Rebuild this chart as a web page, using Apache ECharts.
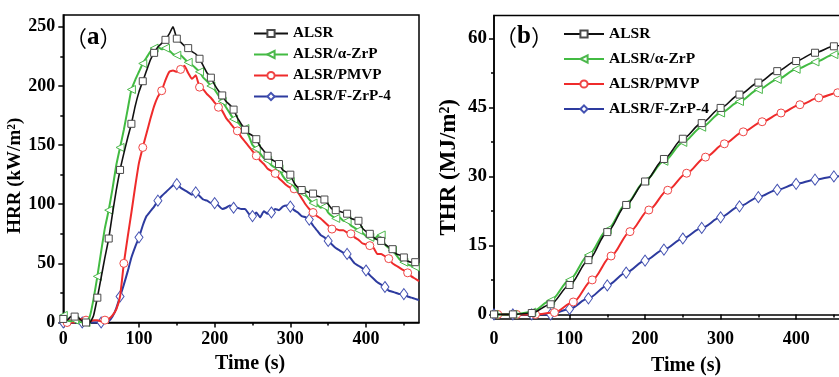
<!DOCTYPE html>
<html><head><meta charset="utf-8">
<script src="https://cdn.jsdelivr.net/npm/echarts@6/dist/echarts.min.js"></script>
<style>html,body{margin:0;padding:0;background:#fff}#c{width:839px;height:377px}</style>
</head><body><div id="c"></div>
<script>
const seriesNames = ['ALSR', 'ALSR/α-ZrP', 'ALSR/PMVP', 'ALSR/F-ZrP-4'];

// ---- Panel (a): HRR (kW/m2), time in s ----
const hrrTime = [0,5,10,15,20,25,30,35,40,45,50,55,60,65,70,75,80,85,90,95,
  100,105,110,115,120,125,130,135,140,145,150,155,160,165,170,175,180,185,190,195,
  200,205,210,215,220,225,230,235,240,245,250,255,260,265,270,275,280,285,290,295,
  300,305,310,315,320,325,330,335,340,345,350,355,360,365,370,375,380,385,390,395,
  400,405,410,415,420,425,430,435,440,445,450,455,460,465,470];
const hrrALSR = [3,2,5,5,4,1,0,0,6,21,
  38,55,71,92,112,129,143,156,168,183,
  195,204,213,222,228,233,236,239,244,250,
  240,237,234,232,229,227,223,217,211,207,
  201,196,192,187,184,180,173,168,163,160,
  158,155,149,145,141,138,136,134,129,127,
  125,118,114,112,111,110,109,107,106,104,
  100,96,95,94,93,92,88,87,86,80,
  77,75,72,70,69,66,64,62,58,57,
  55,52,51,51,50];
const hrrZrP = [6,2,1,2,1,0,0,5,20,39,
  60,80,95,113,133,148,163,180,197,205,
  212,219,224,229,232,233,231,232,230,227,
  226,226,223,220,218,215,212,207,204,200,
  197,192,187,182,177,172,170,166,164,158,
  150,147,143,139,137,133,131,130,124,120,
  119,115,111,110,108,104,101,100,97,98,
  93,90,88,89,86,86,82,80,78,76,
  73,72,70,73,74,66,63,61,57,53,
  51,49,48,47,45];
const hrrPMVP = [0,0,0,0,2,3,2,1,2,2,
  1,2,3,6,11,22,50,72,93,115,
  135,148,160,172,183,191,196,205,212,213,
  212,214,217,211,206,209,199,197,193,190,
  186,182,179,173,169,165,162,157,153,149,
  145,141,137,134,130,128,126,122,119,116,
  114,113,110,105,100,96,93,90,88,85,
  82,79,79,78,78,76,75,72,70,67,
  66,65,63,58,58,56,54,50,48,46,
  44,42,39,37,35];
const hrrFZrP4 = [0,0,0,0,0,0,0,0,0,0,
  0,0,1,5,12,22,32,43,55,64,
  72,82,90,94,98,103,107,110,113,116,
  117,114,112,110,108,110,107,104,103,101,
  101,99,96,97,99,97,97,96,96,92,
  90,93,89,94,92,93,96,95,98,99,
  98,95,93,90,89,87,82,78,74,72,
  69,66,63,61,59,58,54,50,48,46,
  44,40,37,34,32,30,27,26,25,24,
  24,22,21,20,19];

// ---- Panel (b): THR (MJ/m2) ----
const thrTime = [0,25,50,75,100,125,150,175,200,225,250,275,300,325,350,375,400,425,450,470];
const thrTimePMVP = [0,5,30,55,80,105,130,155,180,205,230,255,280,305,330,355,380,405,430,455,470];
const thrALSR = [0,0,0.3,2.2,6.4,11.8,17.9,23.8,28.9,33.8,38.2,41.6,44.9,47.8,50.4,52.9,55.1,56.9,58.3,59.2];
const thrZrP = [0,0,0.5,3.0,7.5,12.9,18.4,24.0,29.0,33.3,37.4,40.7,43.8,46.3,48.9,51.1,53.3,54.9,56.5,57.6];
const thrPMVP = [0,0,0,0,0.4,2.7,7.5,12.7,18.0,22.7,27.0,30.7,34.2,37.1,39.7,41.9,43.8,45.6,47.1,48.2,48.8];
const thrFZrP4 = [0,0,0,0,1.2,3.5,6.3,9.1,11.7,14.1,16.5,18.8,21.1,23.5,25.5,27.1,28.4,29.3,30.0,30.3];

const hrrXTicks = [0,100,200,300,400];
const hrrXMinor = [50,150,250,350,450];
const hrrYTicks = [0,50,100,150,200,250];
const hrrYMinor = [25,75,125,175,225];
const thrYTicks = [0,15,30,45,60];
const thrYMinor = [7.5,22.5,37.5,52.5];

// ---- styles ----
const FONT = '"Liberation Serif", "Times New Roman", serif';
const lineColors = ['#111111', '#42bb42', '#ef2b2b', '#2d3b9f'];
const markColors = ['#4a4a4a', '#4cb84c', '#ef4545', '#4452b2'];
const symbols = ['rect', 'triangle', 'circle', 'diamond'];
const symRotate = [0, 90, 0, 0];
const symSizeA = [[7,7],[8,8],[8,8],[8,11]];
const symSizeB = [[7,7],[8,8],[8,8],[8,11]];
const markEvery = [3, 3, 5, 5];
const markOffset = [0, 0, 1, 0];

const hrrVals = [hrrALSR, hrrZrP, hrrPMVP, hrrFZrP4];
const thrVals = [thrALSR, thrZrP, thrPMVP, thrFZrP4];
const thrTimes = [thrTime, thrTime, thrTimePMVP, thrTime];

const series = [];
for (let i = 0; i < 4; i++) {
  series.push({
    name: seriesNames[i], type: 'line', xAxisIndex: 0, yAxisIndex: 0,
    data: hrrTime.map((t, j) => ({
      value: [t, hrrVals[i][j]],
      symbol: (j % markEvery[i] === markOffset[i]) ? symbols[i] : 'none'
    })),
    symbol: symbols[i], symbolRotate: symRotate[i], symbolSize: symSizeA[i],
    showAllSymbol: true, smooth: 0.15, clip: false,
    lineStyle: { color: lineColors[i], width: i === 0 ? 1.6 : 2 },
    itemStyle: { color: '#ffffff', borderColor: markColors[i], borderWidth: 1 },
    emphasis: { disabled: true }, z: [5, 4, 3, 2][i]
  });
}
for (let i = 0; i < 4; i++) {
  const ts = thrTimes[i];
  series.push({
    name: seriesNames[i], type: 'line', xAxisIndex: 2, yAxisIndex: 2,
    data: ts.map((t, j) => ({
      value: [t, thrVals[i][j]],
      symbol: (t === 470 || (i === 2 && t === 0)) ? 'none' : symbols[i]
    })),
    symbol: symbols[i], symbolRotate: symRotate[i], symbolSize: symSizeB[i],
    showAllSymbol: true, smooth: 0.3, smoothMonotone: 'x', clip: false,
    lineStyle: { color: lineColors[i], width: i === 0 ? 1.6 : 2 },
    itemStyle: { color: '#ffffff', borderColor: markColors[i], borderWidth: 1 },
    emphasis: { disabled: true }, z: [5, 4, 3, 2][i]
  });
}

const tickFont = (s) => ({ fontFamily: FONT, fontWeight: 'bold', fontSize: s, color: '#000' });
const nameFont = (s) => ({ fontFamily: FONT, fontWeight: 'bold', fontSize: s, color: '#000' });
const axLine = { show: true, lineStyle: { color: '#000', width: 1.5 } };

function mainX(grid, gap, pad, margin) {
  return {
    gridIndex: grid, type: 'value', position: 'bottom', min: 0, max: 470,
    axisLine: axLine,
    axisTick: { show: true, inside: false, length: 5, customValues: hrrXTicks, lineStyle: { color: '#000', width: 1.5 } },
    axisLabel: { show: true, customValues: hrrXTicks, margin: margin, ...tickFont(18) },
    splitLine: { show: false },
    name: 'Time (s)', nameLocation: 'middle', nameGap: gap,
    nameTextStyle: { ...nameFont(20), padding: pad }
  };
}
function minorX(grid) {
  return {
    gridIndex: grid, type: 'value', position: 'bottom', offset: 0, min: 0, max: 470,
    axisLine: { show: false },
    axisTick: { show: true, inside: false, length: 3, customValues: hrrXMinor, lineStyle: { color: '#000', width: 1.5 } },
    axisLabel: { show: false }, splitLine: { show: false }
  };
}

const option = {
  animation: false,
  backgroundColor: '#ffffff',
  grid: [
    { left: 63.3, top: 15, width: 355.7, height: 307.5, containLabel: false, outerBoundsMode: 'none',
      show: true, borderColor: '#000', borderWidth: 1.5, backgroundColor: 'transparent' },
    { left: 494, top: 15.5, width: 355, height: 303.5, containLabel: false, outerBoundsMode: 'none',
      show: true, borderColor: '#000', borderWidth: 1.5, backgroundColor: 'transparent' }
  ],
  xAxis: [mainX(0, 26, [0, 0, 0, 18], 8), minorX(0), mainX(1, 37, [0, 0, 0, 29], 11), minorX(1)],
  yAxis: [
    {
      gridIndex: 0, type: 'value', position: 'left', min: 0, max: 260,
      axisLine: axLine,
      axisTick: { show: true, inside: false, length: 5, customValues: hrrYTicks, lineStyle: { color: '#000', width: 1.5 } },
      axisLabel: { show: true, customValues: hrrYTicks, margin: 8, ...tickFont(18) },
      splitLine: { show: false },
      name: 'HRR (kW/m²)', nameLocation: 'middle', nameGap: 28,
      nameTextStyle: { ...nameFont(19), padding: [0, 14, 0, 0] }
    },
    {
      gridIndex: 0, type: 'value', position: 'left', offset: 0, min: 0, max: 260,
      axisLine: { show: false },
      axisTick: { show: true, inside: false, length: 3, customValues: hrrYMinor, lineStyle: { color: '#000', width: 1.5 } },
      axisLabel: { show: false }, splitLine: { show: false }
    },
    {
      gridIndex: 1, type: 'value', position: 'left', min: -1, max: 65,
      axisLine: axLine,
      axisTick: { show: true, inside: false, length: 5, customValues: thrYTicks, lineStyle: { color: '#000', width: 1.5 } },
      axisLabel: { show: true, customValues: thrYTicks, margin: 7, ...tickFont(19) },
      splitLine: { show: false },
      name: 'THR (MJ/m²)', nameLocation: 'middle', nameGap: 33,
      nameTextStyle: { ...nameFont(23) }
    },
    {
      gridIndex: 1, type: 'value', position: 'left', offset: 0, min: -1, max: 65,
      axisLine: { show: false },
      axisTick: { show: true, inside: false, length: 3, customValues: thrYMinor, lineStyle: { color: '#000', width: 1.5 } },
      axisLabel: { show: false }, splitLine: { show: false }
    }
  ],
  legend: [
    {
      orient: 'vertical', left: 253, top: 25.5, padding: 0, itemWidth: 34, itemHeight: 9, itemGap: 5, z: 10,
      selectedMode: false, data: seriesNames,
      textStyle: { fontFamily: FONT, fontWeight: 'bold', fontSize: 15.2, color: '#000', lineHeight: 16 }
    },
    {
      orient: 'vertical', left: 563, top: 26, padding: 0, itemWidth: 40, itemHeight: 9, itemGap: 9, z: 10,
      selectedMode: false, data: seriesNames,
      textStyle: { fontFamily: FONT, fontWeight: 'bold', fontSize: 15.5, color: '#000', lineHeight: 16 }
    }
  ],
  graphic: [
    { type: 'text', x: 65, y: 38, z: 100, style: { text: '{p|（}{l|a}{p|）}', verticalAlign: 'middle', fill: '#000',
      rich: { p: { fontFamily: '"Noto Sans CJK SC"', fontSize: 22, fill: '#000' }, l: { fontFamily: FONT, fontWeight: 'bold', fontSize: 25, fill: '#000' } } } },
    { type: 'text', x: 495, y: 37, z: 100, style: { text: '{p|（}{l|b}{p|）}', verticalAlign: 'middle', fill: '#000',
      rich: { p: { fontFamily: '"Noto Sans CJK SC"', fontSize: 22, fill: '#000' }, l: { fontFamily: FONT, fontWeight: 'bold', fontSize: 25, fill: '#000' } } } }
  ],
  series: series
};

const chart = echarts.init(document.getElementById('c'), null, { renderer: 'canvas' });
chart.setOption(option);
</script>
</body></html>
